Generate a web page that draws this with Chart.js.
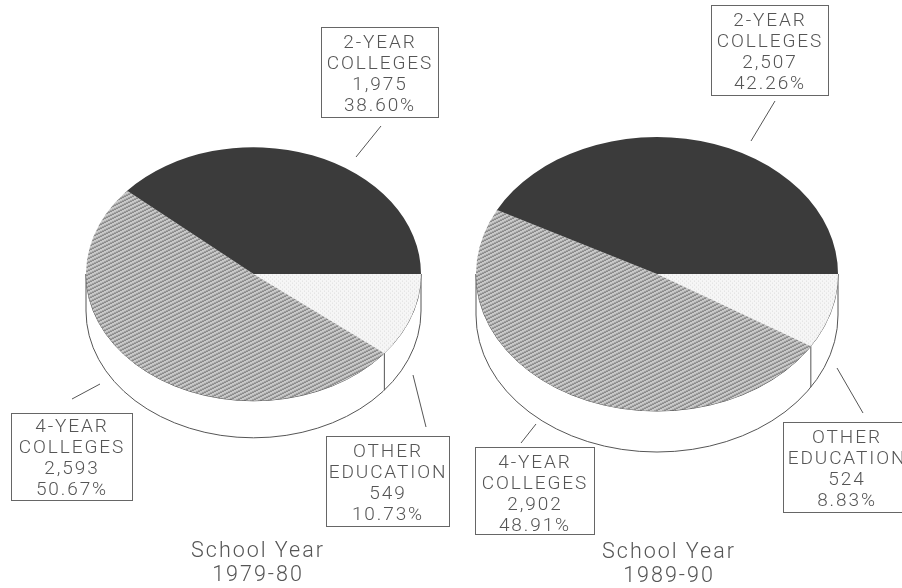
<!DOCTYPE html>
<html>
<head>
<meta charset="utf-8">
<script src="https://cdn.jsdelivr.net/npm/chart.js@4"></script>
<style>
    html, body { margin: 0; padding: 0; background: #fff; }
    #page { position: relative; width: 902px; height: 588px; overflow: hidden; }
    canvas { position: absolute; left: 0; top: 0; }
    .box, .caption {
        position: absolute;
        box-sizing: border-box;
        text-align: center;
        font-family: Roboto, sans-serif;
        font-weight: 300;
        color: #555;
        white-space: nowrap;
        will-change: transform;
    }
    .box { border: 1px solid #666; font-size: 19px; line-height: 21px; letter-spacing: 1.9px; padding-top: 3px; }
    .caption { font-size: 21.5px; line-height: 24px; letter-spacing: 2px; width: 200px; }
</style>
</head>
<body>
<div id="page">
    <canvas id="pie1979" width="902" height="588"></canvas>
    <canvas id="pie1989" width="902" height="588"></canvas>
</div>

<script>
// Tabla de datos
const categories = ['OTHER EDUCATION', '4-YEAR COLLEGES', '2-YEAR COLLEGES'];
const labelLines = [['OTHER', 'EDUCATION'], ['4-YEAR', 'COLLEGES'], ['2-YEAR', 'COLLEGES']];
const years1979 = ['School Year', '1979-80'];
const years1989 = ['School Year', '1989-90'];
const values1979 = [549, 2593, 1975];
const values1989 = [524, 2902, 2507];
const percents1979 = ['10.73%', '50.67%', '38.60%'];
const percents1989 = ['8.83%', '48.91%', '42.26%'];

const squash = 0.757;

function tile(w, h, paint) {
    const c = document.createElement('canvas');
    c.width = w;
    c.height = h;
    paint(c.getContext('2d'));
    const p = c.getContext('2d').createPattern(c, 'repeat');
    // el pastel se aplasta en y, la trama no debe aplastarse
    p.setTransform(new DOMMatrix().scale(1, 1 / squash));
    return p;
}

const hatch = tile(8, 4, function(g) {
    g.fillStyle = '#c8c8c8';
    g.fillRect(0, 0, 8, 4);
    g.fillStyle = '#666';
    [[0, 3], [1, 3], [2, 2], [3, 2], [4, 1], [5, 1], [6, 0], [7, 0]].forEach(function(d) {
        g.fillRect(d[0], d[1], 1, 1);
    });
});

const stipple = tile(4, 4, function(g) {
    g.fillStyle = '#f6f6f6';
    g.fillRect(0, 0, 4, 4);
    g.fillStyle = '#dcdcdc';
    g.fillRect(0, 0, 1, 1);
    g.fillRect(2, 2, 1, 1);
});

// Pared lateral, aplastado del pastel y lineas de llamada
const tiltPlugin = {
    id: 'tilt',
    beforeDatasetsDraw(chart, args, opts) {
        const ctx = chart.ctx;
        const arcs = chart.getDatasetMeta(0).data;
        const a = arcs[0];
        const rx = a.outerRadius, ry = rx * squash;
        // pared
        ctx.save();
        ctx.strokeStyle = '#555';
        ctx.lineWidth = 1;
        ctx.fillStyle = '#fff';
        ctx.beginPath();
        ctx.ellipse(a.x, a.y, rx, ry, 0, 0, Math.PI);
        ctx.ellipse(a.x, a.y + opts.depth, rx, ry, 0, Math.PI, 0, true);
        ctx.closePath();
        ctx.fill();
        ctx.stroke();
        // arista entre "other" y "4-year"
        const ex = a.x + rx * Math.cos(a.endAngle);
        const ey = a.y + ry * Math.sin(a.endAngle);
        ctx.beginPath();
        ctx.moveTo(ex, ey);
        ctx.lineTo(ex, ey + opts.depth);
        ctx.stroke();
        ctx.restore();
        // aplastar
        ctx.save();
        ctx.translate(a.x, a.y);
        ctx.scale(1, squash);
        ctx.translate(-a.x, -a.y);
    },
    afterDatasetsDraw(chart, args, opts) {
        const ctx = chart.ctx;
        ctx.restore();
        ctx.save();
        ctx.strokeStyle = '#555';
        ctx.lineWidth = 1;
        opts.leaders.forEach(function(l) {
            ctx.beginPath();
            ctx.moveTo(l[0], l[1]);
            ctx.lineTo(l[2], l[3]);
            ctx.stroke();
        });
        ctx.restore();
    }
};

function createPie(id, values, padding, depth, leaders) {
    return new Chart(document.getElementById(id), {
        type: 'pie',
        plugins: [tiltPlugin],
        data: {
            labels: categories,
            datasets: [{
                data: values,
                backgroundColor: [stipple, hatch, '#3b3b3b'],
                borderWidth: 0
            }]
        },
        options: {
            responsive: false,
            animation: false,
            rotation: 90,
            layout: { padding: padding },
            plugins: {
                legend: { display: false },
                tooltip: { enabled: false },
                tilt: { depth: depth, leaders: leaders }
            }
        }
    });
}

function addBox(lines, left, top, width, height, pad) {
    const d = document.createElement('div');
    d.className = 'box';
    d.style.cssText = 'left:' + left + 'px;top:' + top + 'px;width:' + width + 'px;height:' + height + 'px;padding-top:' + pad + 'px';
    d.innerHTML = lines.join('<br>');
    document.getElementById('page').appendChild(d);
}

function addCaption(lines, centre, top) {
    const d = document.createElement('div');
    d.className = 'caption';
    d.style.cssText = 'left:' + (centre - 100) + 'px;top:' + top + 'px';
    d.innerHTML = lines.join('<br>');
    document.getElementById('page').appendChild(d);
}

function boxLines(i, values, percents) {
    return labelLines[i].concat([values[i].toLocaleString('en-US'), percents[i]]);
}

createPie('pie1979', values1979, { left: 86, right: 481, top: 106, bottom: 146 }, 37, [
    [381, 126, 356, 157], [100, 384, 72, 399], [413, 375, 426, 427]
]);
createPie('pie1989', values1989, { left: 476, right: 64, top: 93, bottom: 133 }, 41, [
    [775, 101, 751, 141], [536, 424, 521, 443], [837, 368, 863, 413]
]);

addBox(boxLines(2, values1979, percents1979), 321, 27, 118, 91, 3);
addBox(boxLines(1, values1979, percents1979), 11, 413, 122, 88, 1);
addBox(boxLines(0, values1979, percents1979), 326, 436, 124, 91, 3);
addBox(boxLines(2, values1989, percents1989), 711, 5, 118, 91, 3);
addBox(boxLines(1, values1989, percents1989), 475, 447, 120, 88, 3);
addBox(boxLines(0, values1989, percents1989), 783, 422, 128, 91, 3);

addCaption(years1979, 258, 538);
addCaption(years1989, 669, 539);
</script>
</body>
</html>
